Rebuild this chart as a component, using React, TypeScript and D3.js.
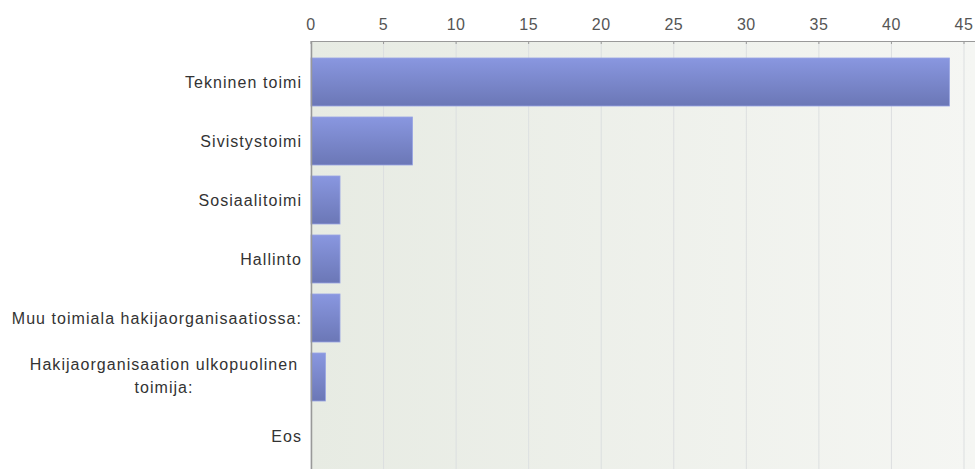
import React from "react";
import * as d3 from "d3";

const categories: string[][] = [
  ["Tekninen toimi"],
  ["Sivistystoimi"],
  ["Sosiaalitoimi"],
  ["Hallinto"],
  ["Muu toimiala hakijaorganisaatiossa:"],
  ["Hakijaorganisaation ulkopuolinen", "toimija:"],
  ["Eos"],
];
const values: number[] = [44, 7, 2, 2, 2, 1, 0];
const ticks: number[] = [0, 5, 10, 15, 20, 25, 30, 35, 40, 45];

const W = 975;
const H = 469;
const left = 311;
const top = 41;

export default function App() {
  const x = d3.scaleLinear().domain([0, 45]).range([left, left + 653]);
  const y = d3
    .scaleBand<number>()
    .domain(d3.range(categories.length))
    .range([52.5, 52.5 + 59 * categories.length])
    .paddingInner(0.186)
    .paddingOuter(0.093);
  const font = "'Liberation Sans', Arial, sans-serif";
  return (
    <svg
      width={W}
      height={H}
      style={{ position: "absolute", left: 0, top: 0, display: "block" }}
    >
      <defs>
        <linearGradient id="bg" x1="0" x2="1" y1="0" y2="0">
          <stop offset="0" stopColor="#e7ebe3" />
          <stop offset="1" stopColor="#f5f6f3" />
        </linearGradient>
        <linearGradient id="bar" x1="0" x2="0" y1="0" y2="1">
          <stop offset="0" stopColor="#8997e0" />
          <stop offset="1" stopColor="#6b77b6" />
        </linearGradient>
      </defs>
      <rect x={0} y={0} width={W} height={H} fill="#ffffff" />
      <rect x={left} y={top} width={W - left} height={H - top} fill="url(#bg)" />
      {ticks.map((t) => (
        <line
          key={"g" + t}
          x1={x(t)}
          x2={x(t)}
          y1={top}
          y2={H}
          stroke="#dcdfe0"
          strokeWidth={1}
        />
      ))}
      {values.map((v, i) =>
        v > 0 ? (
          <rect
            key={"b" + i}
            x={x(0)}
            y={y(i)!}
            width={x(v) - x(0)}
            height={y.bandwidth()}
            fill="url(#bar)"
            stroke="#9aa6e4"
            strokeWidth={0.8}
          />
        ) : null
      )}
      <line x1={left} x2={W} y1={top + 0.5} y2={top + 0.5} stroke="#999" strokeWidth={1.2} />
      <line x1={left + 0.5} x2={left + 0.5} y1={top} y2={H} stroke="#999" strokeWidth={1.5} />
      {ticks.map((t) => (
        <g key={"t" + t}>
          <line x1={x(t)} x2={x(t)} y1={top} y2={top + 3} stroke="#999" />
          <text
            x={x(t)}
            y={30}
            textAnchor="middle"
            fontFamily={font}
            fontSize={16}
            letterSpacing={0.5}
            fill="#555"
          >
            {t}
          </text>
        </g>
      ))}
      {categories.map((lines, i) => {
        const cy = y(i)! + y.bandwidth() / 2;
        if (lines.length === 1) {
          return (
            <text
              key={"l" + i}
              x={302}
              y={cy + 6}
              textAnchor="end"
              fontFamily={font}
              fontSize={16}
              letterSpacing={1.05}
              fill="#333"
            >
              {lines[0]}
            </text>
          );
        }
        return (
          <text
            key={"l" + i}
            x={164}
            y={cy - 7}
            textAnchor="middle"
            fontFamily={font}
            fontSize={16}
            letterSpacing={1.05}
            fill="#333"
          >
            {lines.map((ln, j) => (
              <tspan key={j} x={164} dy={j === 0 ? 0 : 23}>
                {ln}
              </tspan>
            ))}
          </text>
        );
      })}
    </svg>
  );
}
